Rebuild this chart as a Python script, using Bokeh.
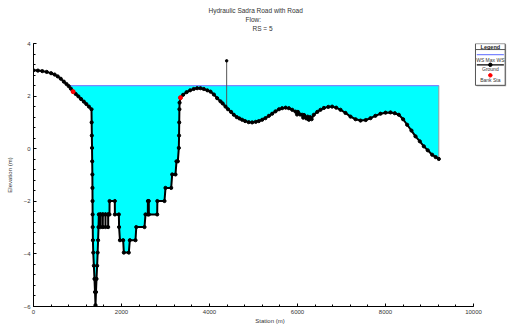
import numpy as np
from bokeh.plotting import figure
from bokeh.models import Range1d, SingleIntervalTicker, Title
from bokeh.core.properties import value
from bokeh.embed import file_html
from bokeh.resources import INLINE

# ---------------- data ----------------
title_lines = ["Hydraulic Sadra Road with Road", "Flow:", "RS = 5"]

ground_sta = [0, 100, 200, 300, 400, 480, 550, 620, 690, 750, 800, 850, 900, 960,
              1020, 1080, 1144, 1200, 1260, 1318, 1322, 1326, 1330, 1334, 1338,
              1340, 1342, 1344, 1346, 1350, 1358, 1372, 1386, 1398, 1409, 1420,
              1432, 1446, 1458, 1468, 1478, 1485, 1522, 1523, 1524, 1574, 1575,
              1576, 1635, 1636, 1637, 1696, 1697, 1698, 1727, 1729, 1848, 1850,
              1940, 1945, 1965, 2038, 2053, 2166, 2189, 2318, 2336, 2523, 2545,
              2598, 2600, 2620, 2622, 2811, 2815, 2977, 3000, 3129, 3152, 3227,
              3250, 3280, 3303, 3308, 3312, 3316, 3320, 3340, 3400, 3480, 3560,
              3640, 3720, 3795, 3870, 3950, 4023, 4100, 4174, 4250, 4300, 4364,
              4420, 4490, 4553, 4620, 4680, 4742, 4810, 4890, 4970, 5050, 5120,
              5197, 5270, 5350, 5424, 5500, 5580, 5652, 5730, 5803, 5880, 5955,
              5990, 6010, 6060, 6106, 6130, 6150, 6200, 6230, 6258, 6290, 6320,
              6371, 6450, 6523, 6600, 6700, 6788, 6880, 6977, 7090, 7205, 7320,
              7432, 7550, 7659, 7770, 7886, 8000, 8114, 8210, 8303, 8400, 8492,
              8590, 8682, 8780, 8871, 8960, 9061, 9140, 9212]
ground_elev = [2.98, 2.97, 2.95, 2.92, 2.87, 2.82, 2.75, 2.66, 2.55, 2.46, 2.38, 2.28,
               2.17, 2.08, 1.99, 1.89, 1.79, 1.70, 1.60, 1.50, 1.00, 0.50, 0.03,
               -0.48, -0.98, -1.49, -1.99, -2.50, -2.98, -3.48, -3.95, -4.45, -4.95,
               -5.45, -5.95, -5.45, -4.95, -4.45, -3.95, -3.48, -2.98, -2.50, -2.50,
               -2.98, -2.50, -2.50, -2.98, -2.50, -2.50, -2.98, -2.50, -2.50, -2.98,
               -2.50, -2.50, -1.99, -1.99, -2.50, -2.50, -2.98, -3.48, -3.48, -3.95,
               -3.95, -3.48, -3.48, -2.98, -2.98, -2.50, -2.50, -1.99, -1.99, -2.50,
               -2.50, -1.99, -1.99, -1.49, -1.49, -0.98, -0.98, -0.48, -0.48, 0.03,
               0.50, 1.00, 1.50, 1.75, 1.94, 2.05, 2.15, 2.22, 2.27, 2.30, 2.30,
               2.27, 2.22, 2.17, 2.06, 1.92, 1.80, 1.72, 1.60, 1.50, 1.40, 1.29,
               1.20, 1.15, 1.10, 1.05, 1.01, 1.00, 1.02, 1.05, 1.10, 1.16, 1.25,
               1.33, 1.42, 1.50, 1.54, 1.56, 1.54, 1.48, 1.41, 1.30, 1.40, 1.30,
               1.29, 1.18, 1.28, 1.15, 1.22, 1.10, 1.20, 1.12, 1.29, 1.40, 1.48,
               1.55, 1.59, 1.60, 1.56, 1.48, 1.36, 1.22, 1.12, 1.07, 1.09, 1.16,
               1.25, 1.33, 1.37, 1.38, 1.35, 1.29, 1.12, 0.91, 0.69, 0.47, 0.28,
               0.09, -0.06, -0.23, -0.32, -0.39]

bank_sta = [900, 3340]
bank_elev = [2.17, 1.94]

ws_elev = 2.4          # WS Max WS

road_sta = [4390]
road_top = [3.34]

legend_title = "Legend"
legend_labels = ["WS Max WS", "Ground", "Bank Sta"]

# ---------------- derived ----------------
sta = np.array(ground_sta, dtype=float)
elev = np.array(ground_elev, dtype=float)
i0 = int(np.argmax(elev < ws_elev))
x_int = sta[i0 - 1] + (ws_elev - elev[i0 - 1]) * (sta[i0] - sta[i0 - 1]) / (elev[i0] - elev[i0 - 1])
fill_x = np.concatenate([[x_int], sta[i0:]])
fill_y1 = np.concatenate([[ws_elev], elev[i0:]])
fill_y2 = np.full_like(fill_x, ws_elev)

FONT = "Liberation Sans"
TXT = "#333333"
WS_COLOR = "#7B86FF"

p = figure(width=508, height=326,
           x_range=Range1d(0, 10750), y_range=Range1d(-6, 4),
           output_backend="svg", toolbar_location=None,
           min_border_left=33, min_border_right=2, min_border_top=43,
           min_border_bottom=19)
p.outline_line_color = None
p.xgrid.visible = False
p.ygrid.visible = False


def mk_title(t, size="6.5px", color=TXT, offset=0):
    return Title(text=t, align="left", offset=offset, text_font=FONT,
                 text_font_size=size, text_font_style="normal", text_color=color,
                 standoff=0)


# titles: p.title is outermost; each "above" item added later stacks outward
p.title.text = title_lines[0]
p.title.align = "left"
p.title.offset = 175
p.title.text_font = FONT
p.title.text_font_size = "6.5px"
p.title.text_font_style = "normal"
p.title.text_color = TXT
p.title.standoff = 0
p.add_layout(mk_title(" ", size="8.5px"), "above")          # spacer next to frame
p.add_layout(mk_title(title_lines[2], offset=219), "above")
p.add_layout(mk_title(title_lines[1], offset=212), "above")

# water fill
p.varea(x=fill_x, y1=fill_y1, y2=fill_y2, fill_color="#00FFFF")
p.segment(x0=[sta[-1]], y0=[elev[-1]], x1=[sta[-1]], y1=[ws_elev], line_color="#999999",
          line_width=1)
p.line(x=[x_int, sta[-1]], y=[ws_elev, ws_elev], line_color=WS_COLOR, line_width=1.2)

# road marker
road_base = np.interp(road_sta, sta, elev)
p.segment(x0=road_sta, y0=road_base, x1=road_sta, y1=road_top, line_color="#555555",
          line_width=1)
p.scatter(x=road_sta, y=road_top, size=2.5, color="black")

# ground
p.line(x=sta, y=elev, line_color="black", line_width=2)
p.scatter(x=sta, y=elev, size=3.2, color="black")
p.scatter(x=bank_sta, y=bank_elev, size=4, color="red")

# axes
for ax in (p.xaxis, p.yaxis):
    ax.axis_line_color = "black"
    ax.major_tick_in = 3
    ax.major_tick_out = 0
    ax.minor_tick_in = 2
    ax.minor_tick_out = 0
    ax.major_label_text_font = FONT
    ax.major_label_text_font_size = "6px"
    ax.major_label_text_color = TXT
    ax.axis_label_text_font = FONT
    ax.axis_label_text_font_size = "6px"
    ax.axis_label_text_font_style = "normal"
    ax.axis_label_text_color = TXT
p.xaxis.major_label_standoff = 3
p.xaxis.axis_label_standoff = 1
p.yaxis.major_label_standoff = 3
p.yaxis.axis_label_standoff = 8
p.xaxis.bounds = (0, 10000)
p.xaxis.ticker = SingleIntervalTicker(interval=2000, num_minor_ticks=5)
p.yaxis.ticker = SingleIntervalTicker(interval=2, num_minor_ticks=5)
p.xaxis.axis_label = "Station (m)"
p.yaxis.axis_label = "Elevation (m)"

# legend drawn inside the extended frame (right of the 10000 axis bound)
L, R = 10045, 10720
cx = (L + R) / 2
p.quad(left=[L + 25], right=[R + 25], top=[3.96], bottom=[2.37],
       fill_color="#9a9a9a", line_color=None)
p.quad(left=[L], right=[R], top=[3.995], bottom=[2.41],
       fill_color="white", line_color="#555555", line_width=1)
p.segment(x0=[L], y0=[3.77], x1=[R], y1=[3.77], line_color="#555555", line_width=1)
p.text(x=[cx], y=[3.885], text=[legend_title], text_align="center",
       text_baseline="middle", text_font=value(FONT), text_font_size="5.5px",
       text_font_style="bold", text_color="#222222")
p.segment(x0=[L + 30], y0=[3.58], x1=[R - 30], y1=[3.58], line_color=WS_COLOR,
          line_width=1.2)
p.segment(x0=[L + 30], y0=[3.19], x1=[R - 30], y1=[3.19], line_color="black",
          line_width=1.2)
p.scatter(x=[cx], y=[3.19], size=3.5, color="black")
p.scatter(x=[cx], y=[2.79], size=3.5, color="red")
p.text(x=[cx] * 3, y=[3.36, 3.015, 2.625], text=legend_labels, text_align="center",
       text_baseline="middle", text_font=value(FONT), text_font_size="5px",
       text_color=TXT)

open("out.html", "w").write(file_html(p, INLINE))
